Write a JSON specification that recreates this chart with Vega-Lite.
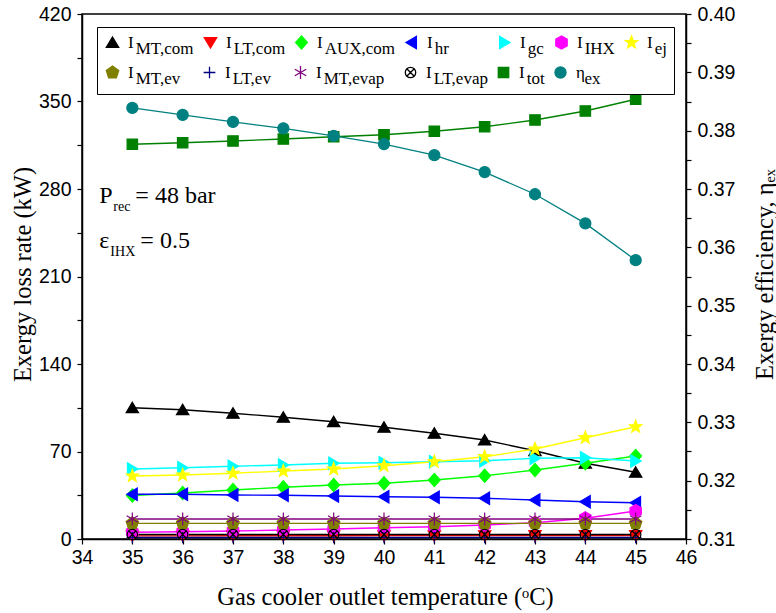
{
  "$schema": "https://vega.github.io/schema/vega-lite/v6.json",
  "width": 604,
  "height": 525,
  "autosize": {"type": "none"},
  "padding": {"left": 82, "top": 14, "right": 90, "bottom": 74},
  "background": "white",
  "data": {
    "values": [
      {"T": 35, "series": "MT,com", "value": 105.0}, {"T": 36, "series": "MT,com", "value": 103.4}, {"T": 37, "series": "MT,com", "value": 100.6}, {"T": 38, "series": "MT,com", "value": 97.4}, {"T": 39, "series": "MT,com", "value": 93.8}, {"T": 40, "series": "MT,com", "value": 89.4}, {"T": 41, "series": "MT,com", "value": 84.6}, {"T": 42, "series": "MT,com", "value": 79.2}, {"T": 43, "series": "MT,com", "value": 70.6}, {"T": 44, "series": "MT,com", "value": 60.6}, {"T": 45, "series": "MT,com", "value": 53.4},
      {"T": 35, "series": "LT,com", "value": 2.5}, {"T": 36, "series": "LT,com", "value": 2.5}, {"T": 37, "series": "LT,com", "value": 2.6}, {"T": 38, "series": "LT,com", "value": 2.6}, {"T": 39, "series": "LT,com", "value": 2.6}, {"T": 40, "series": "LT,com", "value": 2.7}, {"T": 41, "series": "LT,com", "value": 2.7}, {"T": 42, "series": "LT,com", "value": 2.7}, {"T": 43, "series": "LT,com", "value": 2.8}, {"T": 44, "series": "LT,com", "value": 2.8}, {"T": 45, "series": "LT,com", "value": 2.8},
      {"T": 35, "series": "AUX,com", "value": 34.8}, {"T": 36, "series": "AUX,com", "value": 36.8}, {"T": 37, "series": "AUX,com", "value": 39.2}, {"T": 38, "series": "AUX,com", "value": 41.4}, {"T": 39, "series": "AUX,com", "value": 43.2}, {"T": 40, "series": "AUX,com", "value": 44.6}, {"T": 41, "series": "AUX,com", "value": 47.2}, {"T": 42, "series": "AUX,com", "value": 50.6}, {"T": 43, "series": "AUX,com", "value": 55.2}, {"T": 44, "series": "AUX,com", "value": 60.6}, {"T": 45, "series": "AUX,com", "value": 66.4},
      {"T": 35, "series": "hr", "value": 35.8}, {"T": 36, "series": "hr", "value": 35.8}, {"T": 37, "series": "hr", "value": 35.2}, {"T": 38, "series": "hr", "value": 35.0}, {"T": 39, "series": "hr", "value": 34.4}, {"T": 40, "series": "hr", "value": 33.8}, {"T": 41, "series": "hr", "value": 33.4}, {"T": 42, "series": "hr", "value": 32.6}, {"T": 43, "series": "hr", "value": 31.2}, {"T": 44, "series": "hr", "value": 29.8}, {"T": 45, "series": "hr", "value": 29.0},
      {"T": 35, "series": "gc", "value": 56.0}, {"T": 36, "series": "gc", "value": 57.0}, {"T": 37, "series": "gc", "value": 58.2}, {"T": 38, "series": "gc", "value": 59.2}, {"T": 39, "series": "gc", "value": 60.6}, {"T": 40, "series": "gc", "value": 61.0}, {"T": 41, "series": "gc", "value": 61.8}, {"T": 42, "series": "gc", "value": 62.6}, {"T": 43, "series": "gc", "value": 64.6}, {"T": 44, "series": "gc", "value": 65.0}, {"T": 45, "series": "gc", "value": 62.4},
      {"T": 35, "series": "IHX", "value": 5.4}, {"T": 36, "series": "IHX", "value": 5.8}, {"T": 37, "series": "IHX", "value": 6.4}, {"T": 38, "series": "IHX", "value": 7.2}, {"T": 39, "series": "IHX", "value": 8.0}, {"T": 40, "series": "IHX", "value": 9.0}, {"T": 41, "series": "IHX", "value": 9.8}, {"T": 42, "series": "IHX", "value": 11.2}, {"T": 43, "series": "IHX", "value": 13.0}, {"T": 44, "series": "IHX", "value": 16.6}, {"T": 45, "series": "IHX", "value": 22.4},
      {"T": 35, "series": "ej", "value": 50.4}, {"T": 36, "series": "ej", "value": 51.2}, {"T": 37, "series": "ej", "value": 52.6}, {"T": 38, "series": "ej", "value": 54.4}, {"T": 39, "series": "ej", "value": 56.0}, {"T": 40, "series": "ej", "value": 58.6}, {"T": 41, "series": "ej", "value": 61.8}, {"T": 42, "series": "ej", "value": 65.8}, {"T": 43, "series": "ej", "value": 72.0}, {"T": 44, "series": "ej", "value": 81.0}, {"T": 45, "series": "ej", "value": 89.8},
      {"T": 35, "series": "MT,ev", "value": 12.5}, {"T": 36, "series": "MT,ev", "value": 12.5}, {"T": 37, "series": "MT,ev", "value": 12.5}, {"T": 38, "series": "MT,ev", "value": 12.5}, {"T": 39, "series": "MT,ev", "value": 12.5}, {"T": 40, "series": "MT,ev", "value": 12.5}, {"T": 41, "series": "MT,ev", "value": 12.5}, {"T": 42, "series": "MT,ev", "value": 12.5}, {"T": 43, "series": "MT,ev", "value": 12.5}, {"T": 44, "series": "MT,ev", "value": 12.5}, {"T": 45, "series": "MT,ev", "value": 12.5},
      {"T": 35, "series": "LT,ev", "value": 1.2}, {"T": 36, "series": "LT,ev", "value": 1.2}, {"T": 37, "series": "LT,ev", "value": 1.2}, {"T": 38, "series": "LT,ev", "value": 1.2}, {"T": 39, "series": "LT,ev", "value": 1.2}, {"T": 40, "series": "LT,ev", "value": 1.2}, {"T": 41, "series": "LT,ev", "value": 1.2}, {"T": 42, "series": "LT,ev", "value": 1.2}, {"T": 43, "series": "LT,ev", "value": 1.2}, {"T": 44, "series": "LT,ev", "value": 1.2}, {"T": 45, "series": "LT,ev", "value": 1.2},
      {"T": 35, "series": "MT,evap", "value": 16.0}, {"T": 36, "series": "MT,evap", "value": 16.0}, {"T": 37, "series": "MT,evap", "value": 16.0}, {"T": 38, "series": "MT,evap", "value": 16.0}, {"T": 39, "series": "MT,evap", "value": 16.0}, {"T": 40, "series": "MT,evap", "value": 16.0}, {"T": 41, "series": "MT,evap", "value": 16.0}, {"T": 42, "series": "MT,evap", "value": 16.0}, {"T": 43, "series": "MT,evap", "value": 16.0}, {"T": 44, "series": "MT,evap", "value": 16.0}, {"T": 45, "series": "MT,evap", "value": 16.0},
      {"T": 35, "series": "LT,evap", "value": 3.6}, {"T": 36, "series": "LT,evap", "value": 3.6}, {"T": 37, "series": "LT,evap", "value": 3.6}, {"T": 38, "series": "LT,evap", "value": 3.6}, {"T": 39, "series": "LT,evap", "value": 3.6}, {"T": 40, "series": "LT,evap", "value": 3.6}, {"T": 41, "series": "LT,evap", "value": 3.6}, {"T": 42, "series": "LT,evap", "value": 3.6}, {"T": 43, "series": "LT,evap", "value": 3.6}, {"T": 44, "series": "LT,evap", "value": 3.6}, {"T": 45, "series": "LT,evap", "value": 3.6},
      {"T": 35, "series": "tot", "value": 315.8}, {"T": 36, "series": "tot", "value": 317.0}, {"T": 37, "series": "tot", "value": 318.4}, {"T": 38, "series": "tot", "value": 320.0}, {"T": 39, "series": "tot", "value": 321.8}, {"T": 40, "series": "tot", "value": 323.4}, {"T": 41, "series": "tot", "value": 326.2}, {"T": 42, "series": "tot", "value": 329.8}, {"T": 43, "series": "tot", "value": 335.2}, {"T": 44, "series": "tot", "value": 342.4}, {"T": 45, "series": "tot", "value": 351.8},
      {"T": 35, "series": "ex", "value": 0.3839}, {"T": 36, "series": "ex", "value": 0.3827}, {"T": 37, "series": "ex", "value": 0.3815}, {"T": 38, "series": "ex", "value": 0.3804}, {"T": 39, "series": "ex", "value": 0.3791}, {"T": 40, "series": "ex", "value": 0.3777}, {"T": 41, "series": "ex", "value": 0.3758}, {"T": 42, "series": "ex", "value": 0.3729}, {"T": 43, "series": "ex", "value": 0.3691}, {"T": 44, "series": "ex", "value": 0.3641}, {"T": 45, "series": "ex", "value": 0.3578}
    ]
  },
  "layer": [
    {
      "transform": [{"filter": "datum.series !== 'ex'"}],
      "encoding": {
        "x": {
          "field": "T", "type": "quantitative",
          "scale": {"domain": [34, 46], "nice": false, "zero": false},
          "axis": {
            "title": "Gas cooler outlet temperature (ᵒC)",
            "values": [34, 34.5, 35, 35.5, 36, 36.5, 37, 37.5, 38, 38.5, 39, 39.5, 40, 40.5, 41, 41.5, 42, 42.5, 43, 43.5, 44, 44.5, 45, 45.5, 46],
            "labelExpr": "datum.value % 1 === 0 ? format(datum.value, 'd') : ''",
            "tickSize": 5, "labelPadding": 4,
            "titleX": 303, "titleY": 58, "titleBaseline": "middle", "titleAlign": "center",
            "encode": {"ticks": {"y2": {"value": {"expr": "datum.value % 1 === 0 ? -7 : -4"}}}}
          }
        },
        "y": {
          "field": "value", "type": "quantitative",
          "scale": {"domain": [0, 420], "nice": false, "zero": false},
          "axis": {
            "title": "Exergy loss rate (kW)",
            "values": [0, 35, 70, 105, 140, 175, 210, 245, 280, 315, 350, 385, 420],
            "labelExpr": "datum.value % 70 === 0 ? format(datum.value, 'd') : ''",
            "tickSize": 5, "labelPadding": 6,
            "titleX": -59, "titleY": 260, "titleAngle": -90, "titleBaseline": "middle", "titleAlign": "center",
            "encode": {"ticks": {"x2": {"value": {"expr": "datum.value % 70 === 0 ? 7 : 4"}}}}
          }
        }
      },
      "layer": [
        {
          "mark": {"type": "line", "strokeWidth": 1.3},
          "encoding": {
            "detail": {"field": "series"},
            "stroke": {
              "field": "series", "type": "nominal",
              "scale": {
                "domain": ["MT,com", "LT,com", "AUX,com", "hr", "gc", "IHX", "ej", "MT,ev", "LT,ev", "MT,evap", "LT,evap", "tot", "ex"],
                "range": ["#000000", "#ff0000", "#00ff00", "#0000ff", "#00ffff", "#ff00ff", "#ffff00", "#808000", "#000080", "#800080", "#000000", "#008000", "#008080"]
              },
              "legend": {
                "title": null, "orient": "none", "legendX": 15, "legendY": 13,
                "direction": "horizontal", "columns": 7, "gridAlign": "none",
                "strokeColor": "black", "fillColor": "white", "padding": 7,
                "symbolSize": 170, "symbolStrokeWidth": 1.3,
                "labelFont": "Liberation Serif", "labelFontSize": 17, "labelColor": "black",
                "labelOffset": 7, "columnPadding": 7, "rowPadding": 6, "labelLimit": 300,
                "labelExpr": "[datum.label == 'ex' ? 'η' : 'I', (datum.label == 'ex' ? '\u200b\u00a0\u00a0' : '\u200b\u00a0\u2009') + datum.label]"
              }
            }
          }
        },
        {
          "mark": {"type": "point", "filled": true, "size": 170, "strokeWidth": 1.2, "opacity": 1},
          "encoding": {
            "fill": {
              "field": "series", "type": "nominal",
              "scale": {
                "domain": ["MT,com", "LT,com", "AUX,com", "hr", "gc", "IHX", "ej", "MT,ev", "LT,ev", "MT,evap", "LT,evap", "tot", "ex"],
                "range": ["#000000", "#ff0000", "#00ff00", "#0000ff", "#00ffff", "#ff00ff", "#ffff00", "#808000", "#000080", "#800080", "transparent", "#008000", "#008080"]
              },
              "legend": {
                "title": null, "orient": "none", "legendX": 15, "legendY": 13,
                "direction": "horizontal", "columns": 7, "gridAlign": "none",
                "strokeColor": "black", "fillColor": "white", "padding": 7,
                "symbolSize": 170, "symbolStrokeWidth": 1.3,
                "labelFont": "Liberation Serif", "labelFontSize": 17, "labelColor": "black",
                "labelOffset": 7, "columnPadding": 7, "rowPadding": 6, "labelLimit": 300,
                "labelExpr": "[datum.label == 'ex' ? 'η' : 'I', (datum.label == 'ex' ? '\u200b\u00a0\u00a0' : '\u200b\u00a0\u2009') + datum.label]"
              }
            },
            "stroke": {
              "field": "series", "type": "nominal",
              "scale": {
                "domain": ["MT,com", "LT,com", "AUX,com", "hr", "gc", "IHX", "ej", "MT,ev", "LT,ev", "MT,evap", "LT,evap", "tot", "ex"],
                "range": ["#000000", "#ff0000", "#00ff00", "#0000ff", "#00ffff", "#ff00ff", "#ffff00", "#808000", "#000080", "#800080", "#000000", "#008000", "#008080"]
              },
              "legend": {
                "title": null, "orient": "none", "legendX": 15, "legendY": 13,
                "direction": "horizontal", "columns": 7, "gridAlign": "none",
                "strokeColor": "black", "fillColor": "white", "padding": 7,
                "symbolSize": 170, "symbolStrokeWidth": 1.3,
                "labelFont": "Liberation Serif", "labelFontSize": 17, "labelColor": "black",
                "labelOffset": 7, "columnPadding": 7, "rowPadding": 6, "labelLimit": 300,
                "labelExpr": "[datum.label == 'ex' ? 'η' : 'I', (datum.label == 'ex' ? '\u200b\u00a0\u00a0' : '\u200b\u00a0\u2009') + datum.label]"
              }
            },
            "shape": {
              "field": "series", "type": "nominal",
              "scale": {
                "domain": ["MT,com", "LT,com", "AUX,com", "hr", "gc", "IHX", "ej", "MT,ev", "LT,ev", "MT,evap", "LT,evap", "tot", "ex"],
                "range": [
                  "M0,-0.85L0.95,0.75L-0.95,0.75Z",
                  "M0,0.85L0.95,-0.75L-0.95,-0.75Z",
                  "M0,-1L0.9,0L0,1L-0.9,0Z",
                  "M-0.85,0L0.75,-0.95L0.75,0.95Z",
                  "M0.85,0L-0.75,-0.95L-0.75,0.95Z",
                  "M0,-1L0.87,-0.5L0.87,0.5L0,1L-0.87,0.5L-0.87,-0.5Z",
                  "M0,-1L0.247,-0.34L0.951,-0.309L0.399,0.13L0.588,0.809L0,0.42L-0.588,0.809L-0.399,0.13L-0.951,-0.309L-0.247,-0.34Z",
                  "M0,-1L0.951,-0.309L0.588,0.809L-0.588,0.809L-0.951,-0.309Z",
                  "M-0.9,0H0.9M0,-0.9V0.9",
                  "M0,-1V1M-0.87,-0.5L0.87,0.5M-0.87,0.5L0.87,-0.5",
                  "M0.8,0A0.8,0.8 0 1,1 -0.8,0A0.8,0.8 0 1,1 0.8,0ZM-0.57,-0.57L0.57,0.57M-0.57,0.57L0.57,-0.57",
                  "M-0.8,-0.8H0.8V0.8H-0.8Z",
                  "M0.85,0A0.85,0.85 0 1,1 -0.85,0A0.85,0.85 0 1,1 0.85,0Z"
                ]
              },
              "legend": {
                "title": null, "orient": "none", "legendX": 15, "legendY": 13,
                "direction": "horizontal", "columns": 7, "gridAlign": "none",
                "strokeColor": "black", "fillColor": "white", "padding": 7,
                "symbolSize": 170, "symbolStrokeWidth": 1.3,
                "labelFont": "Liberation Serif", "labelFontSize": 17, "labelColor": "black",
                "labelOffset": 7, "columnPadding": 7, "rowPadding": 6, "labelLimit": 300,
                "labelExpr": "[datum.label == 'ex' ? 'η' : 'I', (datum.label == 'ex' ? '\u200b\u00a0\u00a0' : '\u200b\u00a0\u2009') + datum.label]"
              }
            }
          }
        }
      ]
    },
    {
      "transform": [{"filter": "datum.series === 'ex'"}],
      "encoding": {
        "x": {"field": "T", "type": "quantitative", "scale": {"domain": [34, 46], "nice": false, "zero": false}},
        "y": {
          "field": "value", "type": "quantitative",
          "scale": {"domain": [0.31, 0.4], "nice": false, "zero": false},
          "axis": {
            "orient": "right",
            "title": "Exergy efficiency, ηₑₓ",
            "values": [0.31, 0.315, 0.32, 0.325, 0.33, 0.335, 0.34, 0.345, 0.35, 0.355, 0.36, 0.365, 0.37, 0.375, 0.38, 0.385, 0.39, 0.395, 0.4],
            "labelExpr": "round(datum.value * 1000) % 10 === 0 ? format(datum.value, '.2f') : ''",
            "tickSize": 5, "labelPadding": 6,
            "titleX": 79, "titleY": 260, "titleAngle": -90, "titleBaseline": "middle", "titleAlign": "center",
            "encode": {"ticks": {"x2": {"value": {"expr": "round(datum.value * 1000) % 10 === 0 ? -7 : -4"}}}}
          }
        }
      },
      "layer": [
        {
          "mark": {"type": "line", "strokeWidth": 1.3},
          "encoding": {"stroke": {"field": "series", "type": "nominal"}}
        },
        {
          "mark": {"type": "point", "filled": true, "size": 170, "strokeWidth": 1.2, "opacity": 1},
          "encoding": {
            "fill": {"field": "series", "type": "nominal"},
            "stroke": {"field": "series", "type": "nominal"},
            "shape": {"field": "series", "type": "nominal"}
          }
        }
      ]
    },
    {
      "data": {"values": [{"note": "P"}]},
      "mark": {"type": "text", "align": "left", "baseline": "alphabetic", "font": "Liberation Serif", "fontSize": 24, "fill": "black"},
      "encoding": {
        "x": {"datum": 34.345, "type": "quantitative"},
        "y": {"datum": 269, "type": "quantitative", "scale": {"domain": [0, 420], "nice": false, "zero": false}, "axis": null},
        "text": {"field": "note"}
      }
    },
    {
      "data": {"values": [{"note": "rec"}]},
      "mark": {"type": "text", "align": "left", "baseline": "alphabetic", "font": "Liberation Serif", "fontSize": 14, "fill": "black", "dx": 14, "dy": 8},
      "encoding": {
        "x": {"datum": 34.345, "type": "quantitative"},
        "y": {"datum": 269, "type": "quantitative", "scale": {"domain": [0, 420], "nice": false, "zero": false}, "axis": null},
        "text": {"field": "note"}
      }
    },
    {
      "data": {"values": [{"note": "= 48 bar"}]},
      "mark": {"type": "text", "align": "left", "baseline": "alphabetic", "font": "Liberation Serif", "fontSize": 24, "fill": "black", "dx": 36},
      "encoding": {
        "x": {"datum": 34.345, "type": "quantitative"},
        "y": {"datum": 269, "type": "quantitative", "scale": {"domain": [0, 420], "nice": false, "zero": false}, "axis": null},
        "text": {"field": "note"}
      }
    },
    {
      "data": {"values": [{"note": "ε"}]},
      "mark": {"type": "text", "align": "left", "baseline": "alphabetic", "font": "Liberation Serif", "fontSize": 24, "fill": "black"},
      "encoding": {
        "x": {"datum": 34.345, "type": "quantitative"},
        "y": {"datum": 233, "type": "quantitative", "scale": {"domain": [0, 420], "nice": false, "zero": false}, "axis": null},
        "text": {"field": "note"}
      }
    },
    {
      "data": {"values": [{"note": "IHX"}]},
      "mark": {"type": "text", "align": "left", "baseline": "alphabetic", "font": "Liberation Serif", "fontSize": 14, "fill": "black", "dx": 11, "dy": 8},
      "encoding": {
        "x": {"datum": 34.345, "type": "quantitative"},
        "y": {"datum": 233, "type": "quantitative", "scale": {"domain": [0, 420], "nice": false, "zero": false}, "axis": null},
        "text": {"field": "note"}
      }
    },
    {
      "data": {"values": [{"note": "= 0.5"}]},
      "mark": {"type": "text", "align": "left", "baseline": "alphabetic", "font": "Liberation Serif", "fontSize": 24, "fill": "black", "dx": 41},
      "encoding": {
        "x": {"datum": 34.345, "type": "quantitative"},
        "y": {"datum": 233, "type": "quantitative", "scale": {"domain": [0, 420], "nice": false, "zero": false}, "axis": null},
        "text": {"field": "note"}
      }
    }
  ],
  "resolve": {"scale": {"y": "independent"}},
  "config": {
    "view": {"stroke": "black", "strokeWidth": 1.5},
    "axis": {
      "domainColor": "black", "domainWidth": 1.5,
      "tickColor": "black", "tickWidth": 1.2,
      "labelColor": "black", "labelFont": "Liberation Sans", "labelFontSize": 19.5,
      "titleFont": "Liberation Serif", "titleFontSize": 24.5, "titleFontWeight": "normal", "titleColor": "black",
      "grid": false, "labelFlush": false, "labelOverlap": false, "labelBound": false
    },
    "legend": {"strokeWidth": 1, "gridAlign": "none"},
    "style": {"guide-label": {"lineHeight": 6}}
  }
}
